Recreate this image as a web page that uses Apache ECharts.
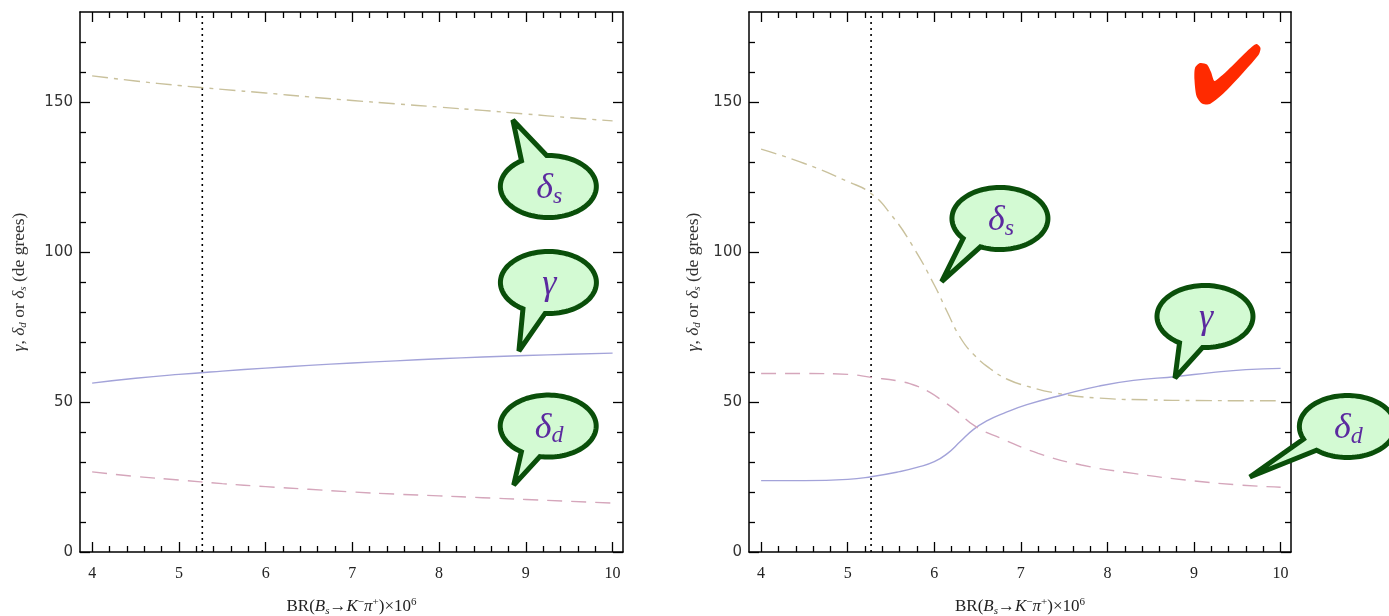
<!DOCTYPE html>
<html><head><meta charset="utf-8">
<script src="https://cdn.jsdelivr.net/npm/echarts@6/dist/echarts.min.js"></script>
<style>html,body{margin:0;padding:0;background:#fff}#c{width:1389px;height:616px}</style>
</head><body><div id="c"></div>
<script>
// ---------- data ----------
const xMajorTicks = [4, 5, 6, 7, 8, 9, 10];
const yMajorTicks = [0, 50, 100, 150];
const xRange = [3.86, 10.12];
const yRange = [0, 180];
const refLineX = 5.27;

// left panel
const leftX      = [4, 4.5, 5, 5.5, 6, 6.5, 7, 7.5, 8, 8.5, 9, 9.5, 10];
const leftDeltaS = [158.7, 157, 155.5, 154.2, 153, 151.7, 150.5, 149.4, 148.3, 147.2, 146, 144.8, 143.7];
const leftGamma  = [56.3, 57.9, 59.2, 60.3, 61.3, 62.2, 63, 63.7, 64.4, 65, 65.5, 65.9, 66.3];
const leftDeltaD = [26.7, 25.2, 24, 22.8, 21.8, 20.9, 20, 19.3, 18.7, 18.1, 17.5, 16.9, 16.3];

// right panel
const rightGammaX  = [4, 4.5, 5, 5.27, 5.6, 5.8, 6, 6.15, 6.3, 6.45, 6.6, 6.8, 7.07, 7.5, 7.9, 8.3, 8.8, 9.2, 9.6, 10];
const rightGamma   = [23.8, 23.8, 24.2, 25.1, 26.8, 28.2, 30.1, 32.8, 36.8, 40.8, 43.6, 46.2, 49.1, 52.5, 55.3, 57.2, 58.5, 59.8, 60.8, 61.2];
const rightDeltaDX = [4, 4.5, 5, 5.27, 5.6, 5.8, 5.95, 6.1, 6.25, 6.48, 6.77, 7.2, 7.7, 8.3, 8.9, 9.5, 10];
const rightDeltaD  = [59.5, 59.5, 59.2, 58.2, 56.9, 55.3, 53.2, 50.3, 47.2, 41.8, 37.9, 32.9, 29, 26.2, 24, 22.4, 21.6];
const rightDeltaSX = [4, 4.5, 5, 5.27, 5.5, 5.75, 6, 6.15, 6.3, 6.45, 6.65, 6.85, 7.07, 7.4, 7.9, 8.5, 9, 10];
const rightDeltaS  = [134.3, 129.5, 123.5, 119.5, 112.5, 102, 89, 80, 71.5, 66, 61, 57.5, 55.3, 53, 51.3, 50.7, 50.5, 50.4];

// ---------- styling ----------
const COL_S = '#c9c19c', COL_G = '#a3a3d9', COL_D = '#d5a6bb';
const xMinorTicks = [], yMinorTicks = [];
for (let i = 0; i < xMajorTicks.length - 1; i++) for (let k = 1; k < 5; k++) xMinorTicks.push(+(xMajorTicks[i] + k * 0.2).toFixed(2));
for (let v = 10; v < yRange[1]; v += 10) if (v % 50 !== 0) yMinorTicks.push(v);

const serif = 'Liberation Serif';
const xTitle = '{n|BR(}{i|B}{sub|s}{n|→}{i|K}{sup|−}{i|π}{sup|+}{n|)×10}{sup|6}';
const xTitleRich = {
  n: {fontFamily: serif, fontSize: 17, color: '#222', lineHeight: 20},
  i: {fontFamily: serif, fontSize: 17, fontStyle: 'italic', color: '#222', lineHeight: 20},
  sub: {fontFamily: serif, fontSize: 11, fontStyle: 'italic', color: '#222', lineHeight: 11, verticalAlign: 'bottom'},
  sup: {fontFamily: serif, fontSize: 11, color: '#222', lineHeight: 11, verticalAlign: 'top'}
};
const yTitle = '{i|γ}{n|, }{i|δ}{sub|d}{n| or }{i|δ}{sub|s}{n| (de grees)}';
const yTitleRich = {
  n: {fontFamily: serif, fontSize: 17.5, color: '#333', lineHeight: 20},
  i: {fontFamily: serif, fontSize: 17.5, fontStyle: 'italic', color: '#333', lineHeight: 20},
  sub: {fontFamily: serif, fontSize: 11, fontStyle: 'italic', color: '#333', lineHeight: 11, verticalAlign: 'bottom'}
};

function mkX(g, pos, vals, len, main) {
  const lab = main && pos === 'bottom';
  return {
    gridIndex: g, type: 'value', position: pos, min: xRange[0], max: xRange[1],
    axisLine: {show: main, onZero: false, lineStyle: {color: '#000', width: 1.5}},
    axisTick: {show: true, inside: true, length: len, customValues: vals, lineStyle: {color: '#000', width: 1.3}},
    axisLabel: {show: lab, customValues: xMajorTicks, fontFamily: serif, fontSize: 16, color: '#222', margin: 14},
    splitLine: {show: false},
    name: lab ? xTitle : '', nameLocation: 'middle', nameGap: 45,
    nameTextStyle: {rich: xTitleRich}
  };
}
function mkY(g, pos, vals, len, main) {
  const lab = main && pos === 'left';
  return {
    gridIndex: g, type: 'value', position: pos, min: yRange[0], max: yRange[1],
    axisLine: {show: main, onZero: false, lineStyle: {color: '#000', width: 1.5}},
    axisTick: {show: true, inside: true, length: len, customValues: vals, lineStyle: {color: '#000', width: 1.3}},
    axisLabel: {show: lab, customValues: yMajorTicks, fontFamily: 'DejaVu Sans', fontSize: 15, color: '#333', margin: 7},
    splitLine: {show: false},
    name: lab ? yTitle : '', nameLocation: 'middle', nameGap: g === 0 ? 51 : 46,
    nameTextStyle: {rich: yTitleRich}
  };
}
const grids = [
  {left: 80, top: 12, width: 543, height: 540, containLabel: false, outerBoundsMode: 'none'},
  {left: 749, top: 12, width: 542, height: 540, containLabel: false, outerBoundsMode: 'none'}
];
const xAxes = [], yAxes = [];
for (let g = 0; g < 2; g++) {
  xAxes.push(mkX(g, 'bottom', xMajorTicks, 10, true), mkX(g, 'bottom', xMinorTicks, 6, false),
             mkX(g, 'top', xMajorTicks, 10, true), mkX(g, 'top', xMinorTicks, 6, false));
  yAxes.push(mkY(g, 'left', yMajorTicks, 10, true), mkY(g, 'left', yMinorTicks, 6, false),
             mkY(g, 'right', yMajorTicks, 10, true), mkY(g, 'right', yMinorTicks, 6, false));
}
const zip = (xs, ys) => xs.map((x, i) => [x, ys[i]]);
function line(g, data, color, type) {
  return {type: 'line', xAxisIndex: g * 4, yAxisIndex: g * 4, data, symbol: 'none', smooth: true,
    lineStyle: {color, width: 1.4, type}, silent: true, z: 3};
}
const DASH_S = [16, 6, 4, 6], DASH_D = [15, 9];
const series = [
  line(0, zip(leftX, leftDeltaS), COL_S, DASH_S),
  line(0, zip(leftX, leftGamma), COL_G, 'solid'),
  line(0, zip(leftX, leftDeltaD), COL_D, DASH_D),
  line(1, zip(rightDeltaSX, rightDeltaS), COL_S, DASH_S),
  line(1, zip(rightGammaX, rightGamma), COL_G, 'solid'),
  line(1, zip(rightDeltaDX, rightDeltaD), COL_D, DASH_D)
];
for (let g = 0; g < 2; g++) {
  series.push({type: 'line', xAxisIndex: g * 4, yAxisIndex: g * 4, data: [[refLineX, yRange[0]], [refLineX, yRange[1]]],
    symbol: 'none', lineStyle: {color: '#000', width: 1.6, type: [2, 4]}, silent: true, z: 2});
}

const chart = echarts.init(document.getElementById('c'), null, {renderer: 'canvas'});
chart.setOption({animation: false, backgroundColor: '#fff', grid: grids, xAxis: xAxes, yAxis: yAxes, series});

// ---------- callouts ----------
const callouts = [
  {g: 0, label: 's', tip: [8.85, 144], dx: 35.5, dy: 66.5, a1: 236, a2: 268},
  {g: 0, label: 'γ', tip: [8.92, 67], dx: 29.5, dy: -68.5, a1: 94, a2: 122},
  {g: 0, label: 'd', tip: [8.86, 22.3], dx: 34.5, dy: -59, a1: 100, a2: 124},
  {g: 1, label: 's', tip: [6.085, 90.1], dx: 58.3, dy: -63.2, a1: 114, a2: 140},
  {g: 1, label: 'γ', tip: [8.78, 58], dx: 30, dy: -61.5, a1: 93, a2: 122},
  {g: 1, label: 'd', tip: [9.645, 25], dx: 97.5, dy: -50.5, a1: 130, a2: 156}
];
const RX = 48, RY = 31;
const PURPLE = '#5b2a9f';
const graphics = [];
callouts.forEach(c => {
  const t = chart.convertToPixel({xAxisIndex: c.g * 4, yAxisIndex: c.g * 4}, c.tip);
  const cx = t[0] + c.dx, cy = t[1] + c.dy;
  const pts = [];
  for (let a = c.a2; a <= c.a1 + 360; a += 3) {
    const r = a * Math.PI / 180;
    pts.push([cx + RX * Math.cos(r), cy + RY * Math.sin(r)]);
  }
  const r1 = (c.a1 + 360) * Math.PI / 180;
  pts.push([cx + RX * Math.cos(r1), cy + RY * Math.sin(r1)]);
  pts.push(t);
  graphics.push({type: 'polygon', z: 100, shape: {points: pts},
    style: {fill: '#d3fad3', stroke: '#0a4f0a', lineWidth: 5, lineJoin: 'miter', miterLimit: 3}});
  const text = c.label === 'γ' ? '{g|γ}' : '{d|δ}{s|' + c.label + '}';
  graphics.push({type: 'text', z: 101, x: cx + 1, y: cy + 2, style: {
    text, align: 'center', verticalAlign: 'middle',
    rich: {
      d: {fontFamily: serif, fontStyle: 'italic', fontSize: 36, fill: PURPLE, lineHeight: 40},
      s: {fontFamily: serif, fontStyle: 'italic', fontSize: 24, fill: PURPLE, lineHeight: 20, verticalAlign: 'bottom'},
      g: {fontFamily: serif, fontStyle: 'italic', fontSize: 36, fill: PURPLE, lineHeight: 40}
    }}});
});
// red check mark
graphics.push({type: 'polygon', z: 100, shape: {smooth: 0.25, points: [
  [1195, 68], [1200, 63], [1207, 64.5], [1211, 72], [1215, 81], [1250, 48.5], [1256.5, 44],
  [1260.5, 48], [1258.5, 55], [1227, 90], [1210, 104], [1202, 103.5], [1196.5, 96], [1194.5, 80]
]}, style: {fill: '#ff2a00'}});
chart.setOption({graphic: graphics});
</script></body></html>
